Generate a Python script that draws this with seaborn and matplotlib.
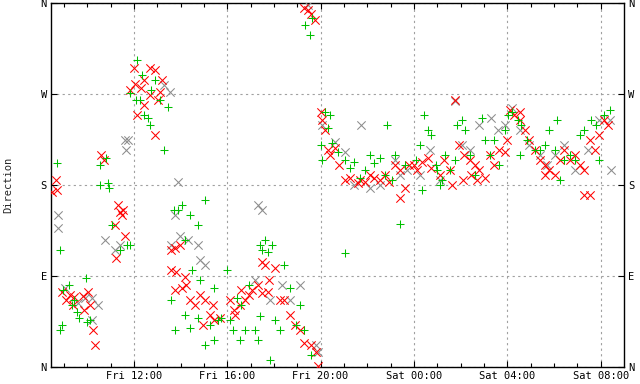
import numpy as np
import pandas as pd
import matplotlib
matplotlib.use("Agg")
import matplotlib.pyplot as plt
import seaborn as sns

# hours since Fri 00:00, direction in degrees
gray_h = [8.75, 8.75, 9.05, 9.6, 10.2, 10.45, 11.2, 11.4, 11.6, 11.65, 13.3, 13.55, 13.9, 13.75,
          13.97, 14.75, 14.85, 15.05, 17.2, 17.3, 17.5, 17.85, 18.35, 18.7, 19.1, 19.9, 19.8, 19.45,
          20.05, 20.6, 21.05, 21.45, 21.75, 22.1, 22.55, 23.2, 23.4, 23.7, 24.25, 24.7, 25.1, 25.75,
          26.05, 26.4, 26.8, 27.3, 27.6, 27.9, 28.2, 28.55, 28.95, 29.4, 29.7, 30.05, 30.45, 30.9,
          31.45, 31.95, 32.4, 32.45, 10.2, 9.9, 11.75, 13.6, 14.3, 10.75]
gray_d = [150, 137, 78, 63, 68, 61, 116, 121, 225, 215, 279, 272, 183, 150,
          130, 121, 106, 101, 86, 160, 155, 66, 81, 66, 81, 15, 22, 358,
          239, 223, 213, 180, 239, 177, 180, 205, 190, 195, 190, 215, 185, 263,
          220, 215, 239, 246, 234, 239, 256, 234, 220, 210, 200, 210, 220, 195,
          215, 244, 244, 195, 46, 68, 225, 121, 126, 126]

red_h = [8.5, 8.65, 8.7, 8.9, 9.1, 9.25, 9.45, 9.8, 10.05, 10.25, 10.35, 9.85, 9.4, 10.1,
         10.6, 10.7, 11.3, 11.4, 11.5, 11.55, 11.6, 11.25, 11.2,
         11.85, 12.0, 12.05, 12.3, 12.45, 12.7, 12.9, 13.1, 13.2, 13.05, 12.45, 12.7, 12.15, 12.9,
         13.6, 13.75, 13.97, 13.6, 13.8, 14.2, 14.25, 13.75, 14.05, 14.4, 14.6, 14.85, 15.25, 15.45,
         15.7, 15.05, 15.4, 14.95,
         16.1, 16.3, 16.55, 16.75, 16.95, 17.05, 17.3, 17.5, 17.6, 17.8, 18.05, 18.25, 18.45, 18.7,
         18.9, 19.1, 19.3, 19.6, 19.8, 19.9, 16.35, 16.6, 17.5, 17.75,
         19.3, 19.45, 19.6, 19.75,
         20.0, 20.05, 20.2, 20.3, 20.4, 20.6, 20.8, 21.05, 21.25, 21.6, 21.7, 22.1, 22.55, 22.75,
         22.95, 23.2, 23.4, 23.6, 23.8, 23.4, 21.9, 22.3,
         24.0, 24.15, 24.35, 24.6, 24.75, 25.1, 25.3, 25.55, 25.75, 25.95, 26.15, 26.4, 26.45, 26.6,
         26.8, 27.05, 27.25, 27.45, 27.65, 27.9, 28.0, 25.65, 26.7, 26.1,
         28.1, 28.3, 28.55, 28.75, 28.95, 29.4, 29.6, 29.8, 30.05, 30.25, 30.45, 30.7, 30.9, 31.1,
         31.3, 31.55, 31.75, 31.95, 32.15, 32.3, 31.3, 31.55, 29.6, 28.55, 29.2]
red_d = [173, 185, 175, 74, 66, 71, 69, 70, 74, 37, 22, 56, 61, 61,
         210, 205, 160, 153, 150, 155, 130, 108, 140,
         274, 296, 280, 276, 284, 296, 294, 272, 284, 264, 259, 269, 249, 229,
         116, 118, 121, 96, 94, 89, 81, 76, 78, 66, 61, 71, 51, 46,
         48, 66, 61, 42,
         66, 56, 61, 66, 71, 76, 81, 104, 101, 86, 98, 66, 66, 51,
         42, 37, 24, 22, 15, 1, 51, 76, 73, 74,
         355, 353, 349, 343,
         252, 244, 234, 215, 210, 217, 200, 185, 187, 182, 185, 190, 185, 190,
         183, 200, 195, 177, 200, 167, 183, 187,
         200, 195, 203, 207, 197, 190, 205, 195, 264, 220, 210, 205, 190, 200,
         195, 187, 210, 200, 215, 213, 225, 180, 185, 185,
         254, 249, 244, 234, 225, 205, 200, 195, 190, 205, 215, 205, 210, 200,
         195, 225, 215, 229, 244, 239, 170, 170, 190, 252, 215]

green_h = [8.7, 8.85, 8.95, 8.9, 9.2, 9.35, 9.55, 9.65, 9.95, 10.0, 10.1, 8.85, 9.45,
           10.55, 10.9, 10.95, 11.05, 11.4, 11.7, 11.85, 10.55, 10.8,
           11.85, 12.15, 12.25, 12.45, 12.6, 12.7, 12.9, 13.1, 13.3, 13.45, 12.35, 12.75, 12.1,
           13.7, 13.9, 14.05, 14.4, 14.75, 15.05, 13.6, 13.75, 14.2, 14.4, 14.75, 15.05, 15.25, 15.6,
           15.45, 15.75, 14.5, 14.85, 15.45, 14.2,
           16.0, 16.1, 16.25, 16.4, 16.6, 16.75, 16.95, 17.2, 17.4, 17.5, 17.6, 17.75, 17.9, 18.05,
           18.25, 18.45, 18.7, 18.95, 19.1, 19.3, 19.6, 16.55, 17.3, 17.85, 17.4,
           19.35, 19.55, 19.65,
           20.0, 20.05, 20.2, 20.3, 20.4, 20.5, 20.75, 21.05, 21.25, 21.45, 21.7, 21.9, 22.1, 22.3,
           22.55, 22.75, 22.85, 23.2, 23.4, 23.6, 21.05, 23.05,
           24.1, 24.25, 24.45, 24.6, 24.75, 24.95, 25.0, 25.2, 25.35, 25.55, 25.75, 25.85, 26.05, 26.2,
           26.4, 26.6, 26.9, 27.05, 27.25, 27.45, 27.65, 27.9, 25.1, 24.35,
           28.05, 28.2, 28.45, 28.6, 28.85, 29.2, 29.4, 29.6, 29.8, 30.05, 30.25, 30.45, 30.7, 30.9,
           31.1, 31.3, 31.6, 31.8, 31.95, 32.15, 32.4, 28.55, 30.15]
green_d = [202, 116, 76, 42, 81, 61, 54, 48, 88, 45, 46, 37, 66,
           180, 182, 177, 140, 116, 121, 121, 200, 207,
           271, 304, 264, 249, 246, 239, 284, 264, 215, 257, 289, 274, 264,
           155, 155, 160, 150, 140, 165, 66, 37, 51, 39, 48, 22, 42, 46,
           27, 48, 96, 86, 78, 126,
           96, 46, 37, 68, 61, 37, 81, 37, 121, 116, 126, 114, 121, 46,
           37, 101, 78, 42, 61, 37, 12, 27, 27, 7, 50,
           338, 328, 345,
           220, 205, 252, 236, 249, 222, 213, 205, 197, 203, 187, 195, 210, 202,
           207, 190, 239, 210, 141, 200, 113, 185,
           205, 220, 249, 234, 229, 200, 195, 185, 210, 195, 205, 239, 244, 234,
           210, 190, 246, 225, 210, 225, 200, 234, 180, 175,
           249, 252, 244, 239, 225, 215, 215, 220, 234, 215, 185, 205, 210, 205,
           229, 234, 244, 239, 205, 249, 254, 210, 244]

x_ticks = [12, 16, 20, 24, 28, 32]
x_labels = ["Fri 12:00", "Fri 16:00", "Fri 20:00", "Sat 00:00", "Sat 04:00", "Sat 08:00"]
y_ticks = [0, 90, 180, 270, 360]
y_labels = ["N", "E", "S", "W", "N"]

sns.set_style("ticks", {"xtick.direction": "in", "ytick.direction": "in"})
plt.rcParams["font.family"] = ["DejaVu Sans Mono"]

fig = plt.figure(figsize=(6.4, 3.84), dpi=100)
ax = fig.add_axes([51 / 640, 17 / 384, 573 / 640, 364 / 384])

series = [
    (gray_h, gray_d, "x", "#8c8c8c"),
    (red_h, red_d, "x", "#ff0000"),
    (green_h, green_d, "+", "#00c000"),
]
for hh, dd, mk, col in series:
    df = pd.DataFrame({"hour": hh, "dir": dd})
    sns.scatterplot(data=df, x="hour", y="dir", marker=mk, color=col, s=36,
                    linewidth=0.75, ax=ax, zorder=3)

ax.set_xlim(8.45, 33.0)
ax.set_ylim(0, 360)
ax.set_xticks(x_ticks)
ax.set_xticklabels(x_labels)
ax.set_xticks(np.arange(9, 33), minor=True)
ax.set_yticks(y_ticks)
ax.set_yticklabels(y_labels)
ax.tick_params(axis="both", which="both", top=True, right=True, labelright=True,
               labelsize=7.5, length=4, width=0.8, pad=3, colors="black")
ax.tick_params(axis="x", which="minor", length=3)
ax.grid(True, which="major", color="#a0a0a0", linestyle=(0, (2, 3)), linewidth=0.8)
for sp in ax.spines.values():
    sp.set_visible(True)
    sp.set_color("black")
    sp.set_linewidth(1)
ax.set_xlabel("")
ax.set_ylabel("Direction", fontsize=7.5, labelpad=20)

fig.savefig("out.png", dpi=100)
